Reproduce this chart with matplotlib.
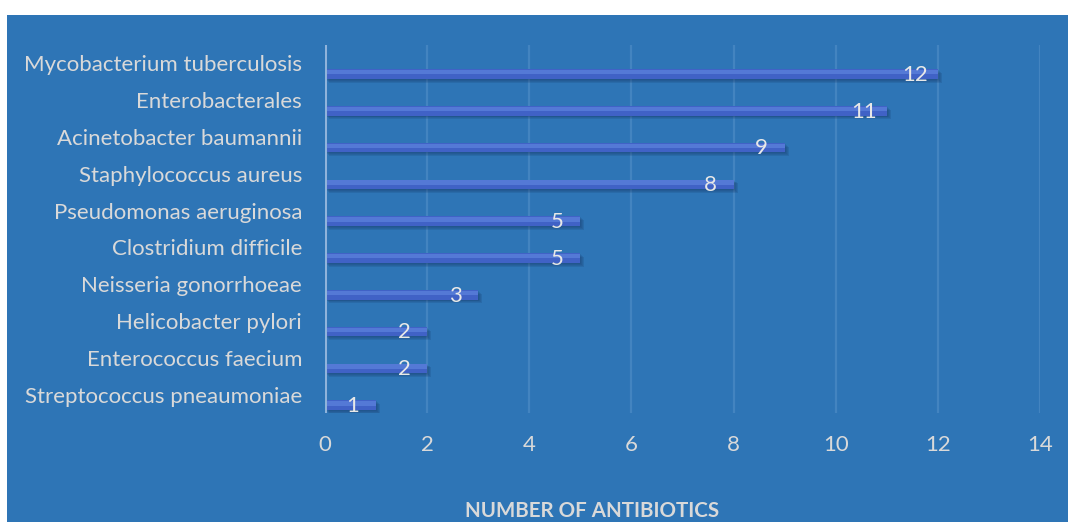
import matplotlib
matplotlib.use("Agg")
import matplotlib.pyplot as plt
from matplotlib.patches import Rectangle
import numpy as np

categories = [
    "Streptococcus pneaumoniae",
    "Enterococcus faecium",
    "Helicobacter pylori",
    "Neisseria gonorrhoeae",
    "Clostridium difficile",
    "Pseudomonas aeruginosa",
    "Staphylococcus aureus",
    "Acinetobacter baumannii",
    "Enterobacterales",
    "Mycobacterium tuberculosis",
]
counts = [1, 2, 2, 3, 5, 5, 8, 9, 11, 12]
x_ticks = [0, 2, 4, 6, 8, 10, 12, 14]
x_title = "NUMBER OF ANTIBIOTICS"

W, H = 1068, 522
BG = "#2E75B6"
TXT = "#D9D9D9"
FONT = "Lato"

fig = plt.figure(figsize=(W / 100, H / 100), dpi=100, facecolor="white")
panel = Rectangle((7 / W, 0), 1 - 7 / W, (H - 15) / H,
                  transform=fig.transFigure, facecolor=BG,
                  edgecolor="none", zorder=-10)
fig.add_artist(panel)

ax = fig.add_axes([325 / W, (H - 413) / H, (1040 - 325) / W, (413 - 45) / H])
ax.set_zorder(1)
ax.set_facecolor(BG)
ax.set_xlim(0, 14)
ax.set_ylim(-0.5, len(categories) - 0.5)

for s in ax.spines.values():
    s.set_visible(False)
ax.axvline(0, color="#8FB3DB", lw=2.2, zorder=7)
for t in x_ticks[1:]:
    ax.axvline(t, color="#4384C0", lw=1.6, zorder=1)

ypos = np.arange(len(categories))
bar_h = 0.26
offset = -0.29
# soft shadow under each bar
for k, a in enumerate([0.12, 0.12, 0.14, 0.16]):
    d = 0.025 * (k + 1)
    ax.barh(ypos + offset - d, counts, height=bar_h, left=0.02 * (k + 1),
            color="#15335F", alpha=a, zorder=3, linewidth=0)
# bar body with lighter upper part
ax.barh(ypos + offset, counts, height=bar_h, color="#4062C6", zorder=4,
        linewidth=0)
ax.barh(ypos + offset + bar_h * 0.2, counts, height=bar_h * 0.45,
        color="#5479D6", zorder=5, linewidth=0)

for y, v in zip(ypos, counts):
    ax.text(v - 0.45, y + offset - 0.02, str(v), ha="center", va="center",
            fontsize=16, color="#E8E8E8", family=FONT, zorder=6)

ax.set_yticks(ypos)
ax.set_yticklabels(categories, fontsize=16, color=TXT, family=FONT)
ax.set_xticks(x_ticks)
ax.set_xticklabels([str(t) for t in x_ticks], fontsize=16, color=TXT,
                   family=FONT)
ax.tick_params(axis="y", length=0, pad=16.5)
ax.tick_params(axis="x", length=0, pad=16)

fig.text(592 / W, 1 - 511 / H, x_title, ha="center", va="center",
         fontsize=14.8, fontweight="bold", color=TXT, family=FONT)

fig.savefig("out.png", dpi=100, facecolor="white")
